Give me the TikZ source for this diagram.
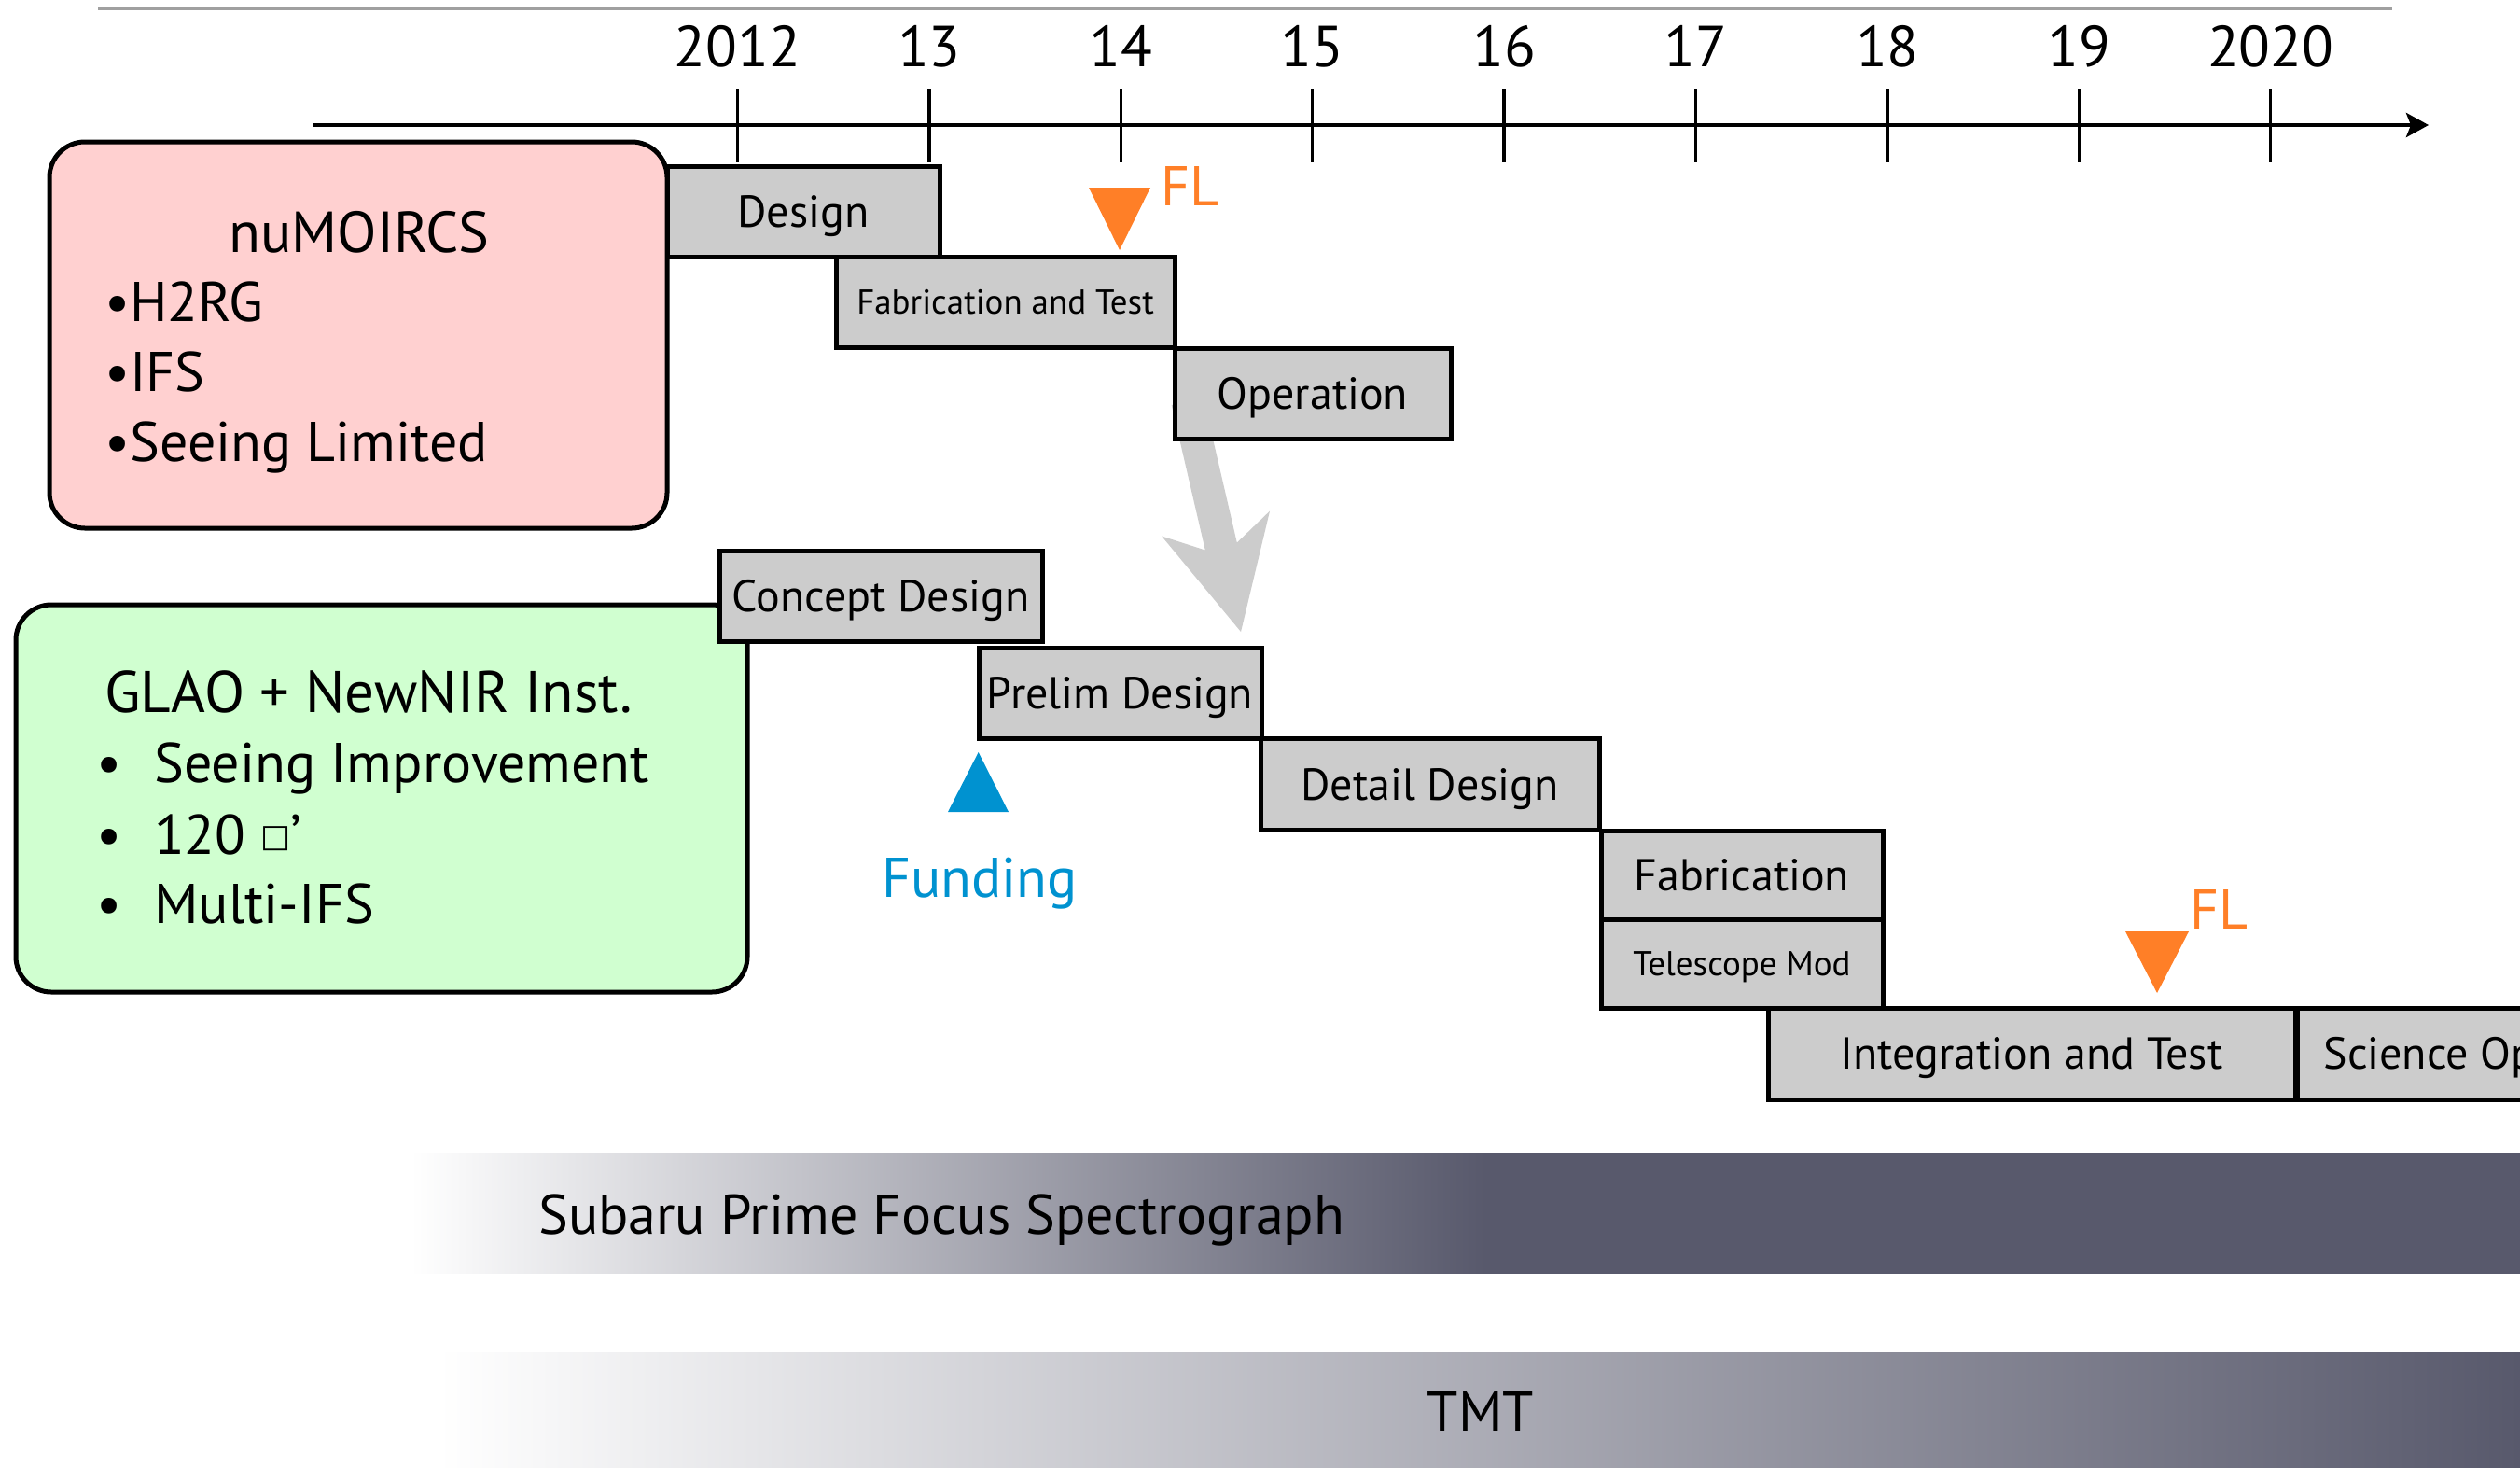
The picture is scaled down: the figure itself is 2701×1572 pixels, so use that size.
\documentclass[tikz,border=0pt]{standalone}
\usepackage{fontspec}
\setmainfont{PT Sans}
\newfontfamily\symfont{DejaVu Sans}
\usetikzlibrary{arrows.meta}
\definecolor{boxgray}{HTML}{CCCCCC}
\definecolor{pinkfill}{HTML}{FFD0D0}
\definecolor{greenfill}{HTML}{D0FFD0}
\definecolor{florange}{RGB}{255,127,39}
\definecolor{fundblue}{RGB}{0,146,208}
\definecolor{banddark}{RGB}{88,89,108}
\definecolor{topgray}{RGB}{160,160,160}
\pgfdeclarehorizontalshading{spsband}{100bp}{color(0bp)=(white); color(25bp)=(white); color(50.47bp)=(banddark); color(100bp)=(banddark)}
\begin{document}
\begin{tikzpicture}[x=1pt,y=-1pt,
  bigfont/.style={font=\fontsize{60}{68}\selectfont},
  medfont/.style={font=\fontsize{48}{56}\selectfont, text height=33.6pt, text depth=0pt},
  smallfont/.style={font=\fontsize{37}{44}\selectfont, text height=25.9pt, text depth=0pt},
  gbox/.style={draw=black, line width=5pt, fill=boxgray, inner sep=0pt, anchor=center},
  roundbox/.style={draw=black, line width=5pt, rounded corners=38pt, inner sep=0pt, anchor=center},
  yearlbl/.style={font=\fontsize{62}{70}\selectfont, anchor=base, inner sep=0pt},
  txt/.style={bigfont, anchor=base west, inner sep=0pt},
  tickline/.style={line width=3.5pt},
  axisline/.style={line width=4.5pt, -{Stealth[length=24pt,width=26pt,inset=5pt]}}
]
\clip (0,0) rectangle (2701,1572);
\fill[white] (0,0) rectangle (2701,1572);

% top rule
\coordinate (topL) at (105,9.6);
\coordinate (topR) at (2564,9.6);
\draw[topgray, line width=3pt] (topL) -- (topR);

% time axis
\coordinate (axL) at (336,134);
\coordinate (axR) at (2603,134);
\draw[axisline] (axL) -- (axR);
\foreach \i/\lab in {0/2012,1/13,2/14,3/15,4/16,5/17,6/18,7/19,8/2020}{
  \coordinate (tt\i) at ({790.5+205.4*\i},95);
  \coordinate (tb\i) at ({790.5+205.4*\i},174);
  \draw[tickline] (tt\i) -- (tb\i);
  \node[yearlbl] (yr\i) at ({790.5+205.4*\i},71) {\lab};
}

% bands
\shade[shading=spsband] (440,1236) rectangle (2701,1364);
\shade[left color=white, right color=banddark] (470,1449) rectangle (2701,1572);
\node[txt] (sps) at (577,1322) {Subaru Prime Focus Spectrograph};
\node[bigfont, anchor=base, inner sep=0pt] (tmt) at (1587,1533) {TMT};

% rounded boxes
\node[roundbox, fill=pinkfill, minimum width=662pt, minimum height=414pt] (pink) at (384,359) {};
\node[roundbox, fill=greenfill, minimum width=784pt, minimum height=415pt] (green) at (409,855.5) {};

% pink box text
\node[font=\fontsize{62}{70}\selectfont, anchor=base, inner sep=0pt] (numo) at (385,270) {nuMOIRCS};
\node[txt] (h2rg) at (112,344) {•H2RG};
\node[txt] (ifs) at (112,419) {•IFS};
\node[txt] (seelim) at (112,494) {•Seeing Limited};

% green box text
\node[txt, font=\fontsize{63}{70}\selectfont] (glao) at (112,763) {GLAO + NewNIR Inst.};
\node[txt] (b1) at (103,838) {•};
\node[txt] (b2) at (103,915) {•};
\node[txt] (b3) at (103,989.5) {•};
\node[txt] (seeimp) at (165,838) {Seeing Improvement};
\node[txt] (onetwenty) at (165,915) {120 \raisebox{8pt}{\symfont\fontsize{34}{34}\selectfont □}’};
\node[txt] (multi) at (165,989.5) {Multi-IFS};

% big gray arrow (behind Operation box)
\fill[boxgray] (1289.7,426) -- (1325.8,581.5) -- (1361,547.6) -- (1330,677)
  -- (1245.1,574.5) -- (1291.8,589.5) -- (1255.7,434) -- cycle;

% nuMOIRCS schedule
\node[gbox, medfont, minimum width=292pt, minimum height=97.5pt] (design) at (861,226.75) {Design};
\node[gbox, smallfont, minimum width=363pt, minimum height=96.5pt] (fabtest) at (1077.5,323.75) {Fabrication and Test};
\node[gbox, medfont, minimum width=296pt, minimum height=97pt] (oper) at (1407,421.5) {Operation};

% GLAO schedule
\node[gbox, medfont, minimum width=346pt, minimum height=97pt] (concept) at (944,638.5) {Concept Design};
\node[gbox, medfont, minimum width=303pt, minimum height=97.5pt] (prelim) at (1200.5,742.75) {Prelim Design};
\node[gbox, medfont, minimum width=363pt, minimum height=98pt] (detail) at (1532.5,840.5) {Detail Design};
\node[gbox, medfont, minimum width=302pt, minimum height=94.5pt] (fab) at (1867,937.75) {Fabrication};
\node[gbox, smallfont, minimum width=302pt, minimum height=95pt] (telmod) at (1867,1032.5) {Telescope Mod};
\node[gbox, medfont, minimum width=565pt, minimum height=98pt] (integ) at (2177.5,1129) {Integration and Test};
\node[gbox, medfont, minimum height=98pt, anchor=west, inner xsep=28pt] (sci) at (2460,1129) {Science Operation};

% markers
\fill[florange] (1167,201) -- (1233,201) -- (1200,268) -- cycle;
\node[txt, text=florange] (fl1) at (1244,220) {FL};
\fill[florange] (2278,998) -- (2346,998) -- (2312,1064) -- cycle;
\node[txt, text=florange] (fl2) at (2347,995) {FL};
\fill[fundblue] (1016,870) -- (1081,870) -- (1048.7,806) -- cycle;
\node[bigfont, anchor=base, inner sep=0pt, text=fundblue] (funding) at (1050,961) {Funding};
\end{tikzpicture}
\end{document}
